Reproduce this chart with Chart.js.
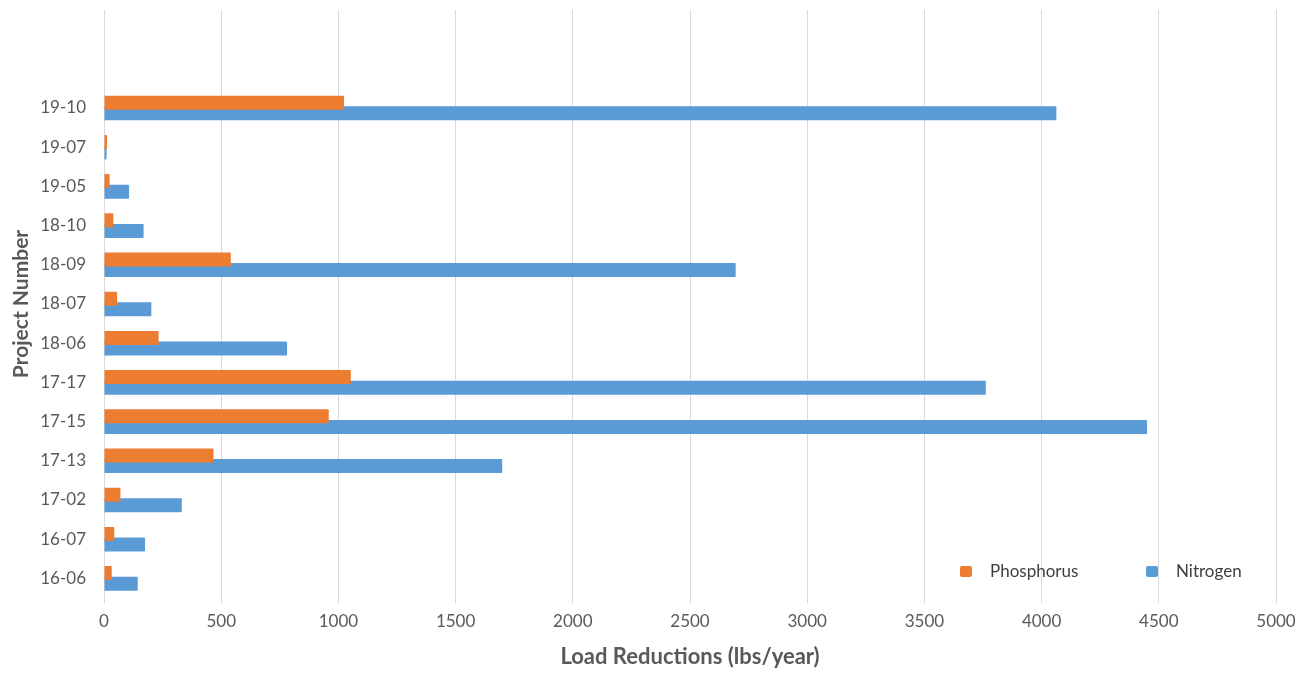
<!DOCTYPE html>
<html>
<head>
<meta charset="utf-8">
<title>Load Reductions by Project</title>
<script src="https://cdn.jsdelivr.net/npm/chart.js@4/dist/chart.umd.min.js"></script>
<style>
  html, body { margin: 0; padding: 0; background: #ffffff; }
  #wrap { width: 1307px; height: 676px; position: relative; }
</style>
</head>
<body>
<div id="wrap"><canvas id="chartCanvas" width="1307" height="676"></canvas></div>
<script>
// Datos (las dos primeras categorías están vacías)
const categories = ['', '', '19-10', '19-07', '19-05', '18-10', '18-09', '18-07', '18-06', '17-17', '17-15', '17-13', '17-02', '16-07', '16-06'];
const phosphorus = [null, null, 1024, 13, 24, 40, 541, 56, 233, 1053, 959, 467, 70, 44, 33];
const nitrogen = [null, null, 4063, 11, 107, 169, 2695, 202, 781, 3762, 4450, 1699, 332, 175, 144];
const seriesNames = ['Phosphorus', 'Nitrogen'];
const xTicks = [0, 500, 1000, 1500, 2000, 2500, 3000, 3500, 4000, 4500, 5000];

const FONT = 'Lato, "Open Sans", sans-serif';
const TEXT = '#595959';
const GRID = '#d9d9d9';

// Leyenda dibujada dentro del área del gráfico (abajo a la derecha)
const insideLegend = {
  id: 'insideLegend',
  afterDraw(chart) {
    const { ctx, chartArea } = chart;
    const y = chartArea.bottom - 26;
    const starts = [chartArea.right - 316, chartArea.right - 130];
    ctx.save();
    ctx.font = '17px ' + FONT;
    ctx.textBaseline = 'middle';
    chart.data.datasets.forEach((ds, i) => {
      const x = starts[i];
      ctx.fillStyle = ds.backgroundColor;
      ctx.beginPath();
      ctx.roundRect(x, y - 6, 12, 11, 2);
      ctx.fill();
      ctx.fillStyle = '#404040';
      ctx.fillText(ds.label, x + 30, y);
    });
    ctx.restore();
  }
};

const ctx = document.getElementById('chartCanvas').getContext('2d');
new Chart(ctx, {
  type: 'bar',
  data: {
    labels: categories,
    datasets: [
      {
        label: seriesNames[0],
        data: phosphorus,
        backgroundColor: '#ED7D31',
        borderRadius: 1,
        categoryPercentage: 0.54,
        barPercentage: 1.32
      },
      {
        label: seriesNames[1],
        data: nitrogen,
        backgroundColor: '#5B9BD5',
        borderRadius: 1,
        categoryPercentage: 0.54,
        barPercentage: 1.32
      }
    ]
  },
  options: {
    indexAxis: 'y',
    responsive: false,
    animation: false,
    layout: { padding: { top: 10, right: 31, left: 0, bottom: 0 } },
    plugins: {
      legend: { display: false },
      tooltip: { enabled: false }
    },
    scales: {
      x: {
        min: 0,
        max: 5000,
        afterBuildTicks: (scale) => { scale.ticks = xTicks.map(v => ({ value: v })); },
        afterFit: (scale) => { scale.height = 78; },
        grid: { color: GRID, lineWidth: 1, tickLength: 5, drawTicks: true },
        border: { display: false },
        ticks: {
          color: TEXT,
          font: { family: FONT, size: 17 },
          padding: 8,
          callback: (value) => String(value)
        },
        title: {
          display: true,
          text: 'Load Reductions (lbs/year)',
          color: TEXT,
          font: { family: FONT, size: 22, weight: 'bold' },
          padding: { top: 0, bottom: 6 }
        }
      },
      y: {
        afterFit: (scale) => {
          scale.width = 104;
          scale.paddingTop = 0;
          scale.paddingBottom = 0;
        },
        grid: { display: false },
        border: { display: false },
        ticks: { color: TEXT, font: { family: FONT, size: 17 }, padding: 10, autoSkip: false },
        title: {
          display: true,
          text: 'Project Number',
          color: TEXT,
          font: { family: FONT, size: 21, weight: 'bold' },
          padding: { top: 9, bottom: 0 }
        }
      }
    }
  },
  plugins: [insideLegend]
});
</script>
</body>
</html>
